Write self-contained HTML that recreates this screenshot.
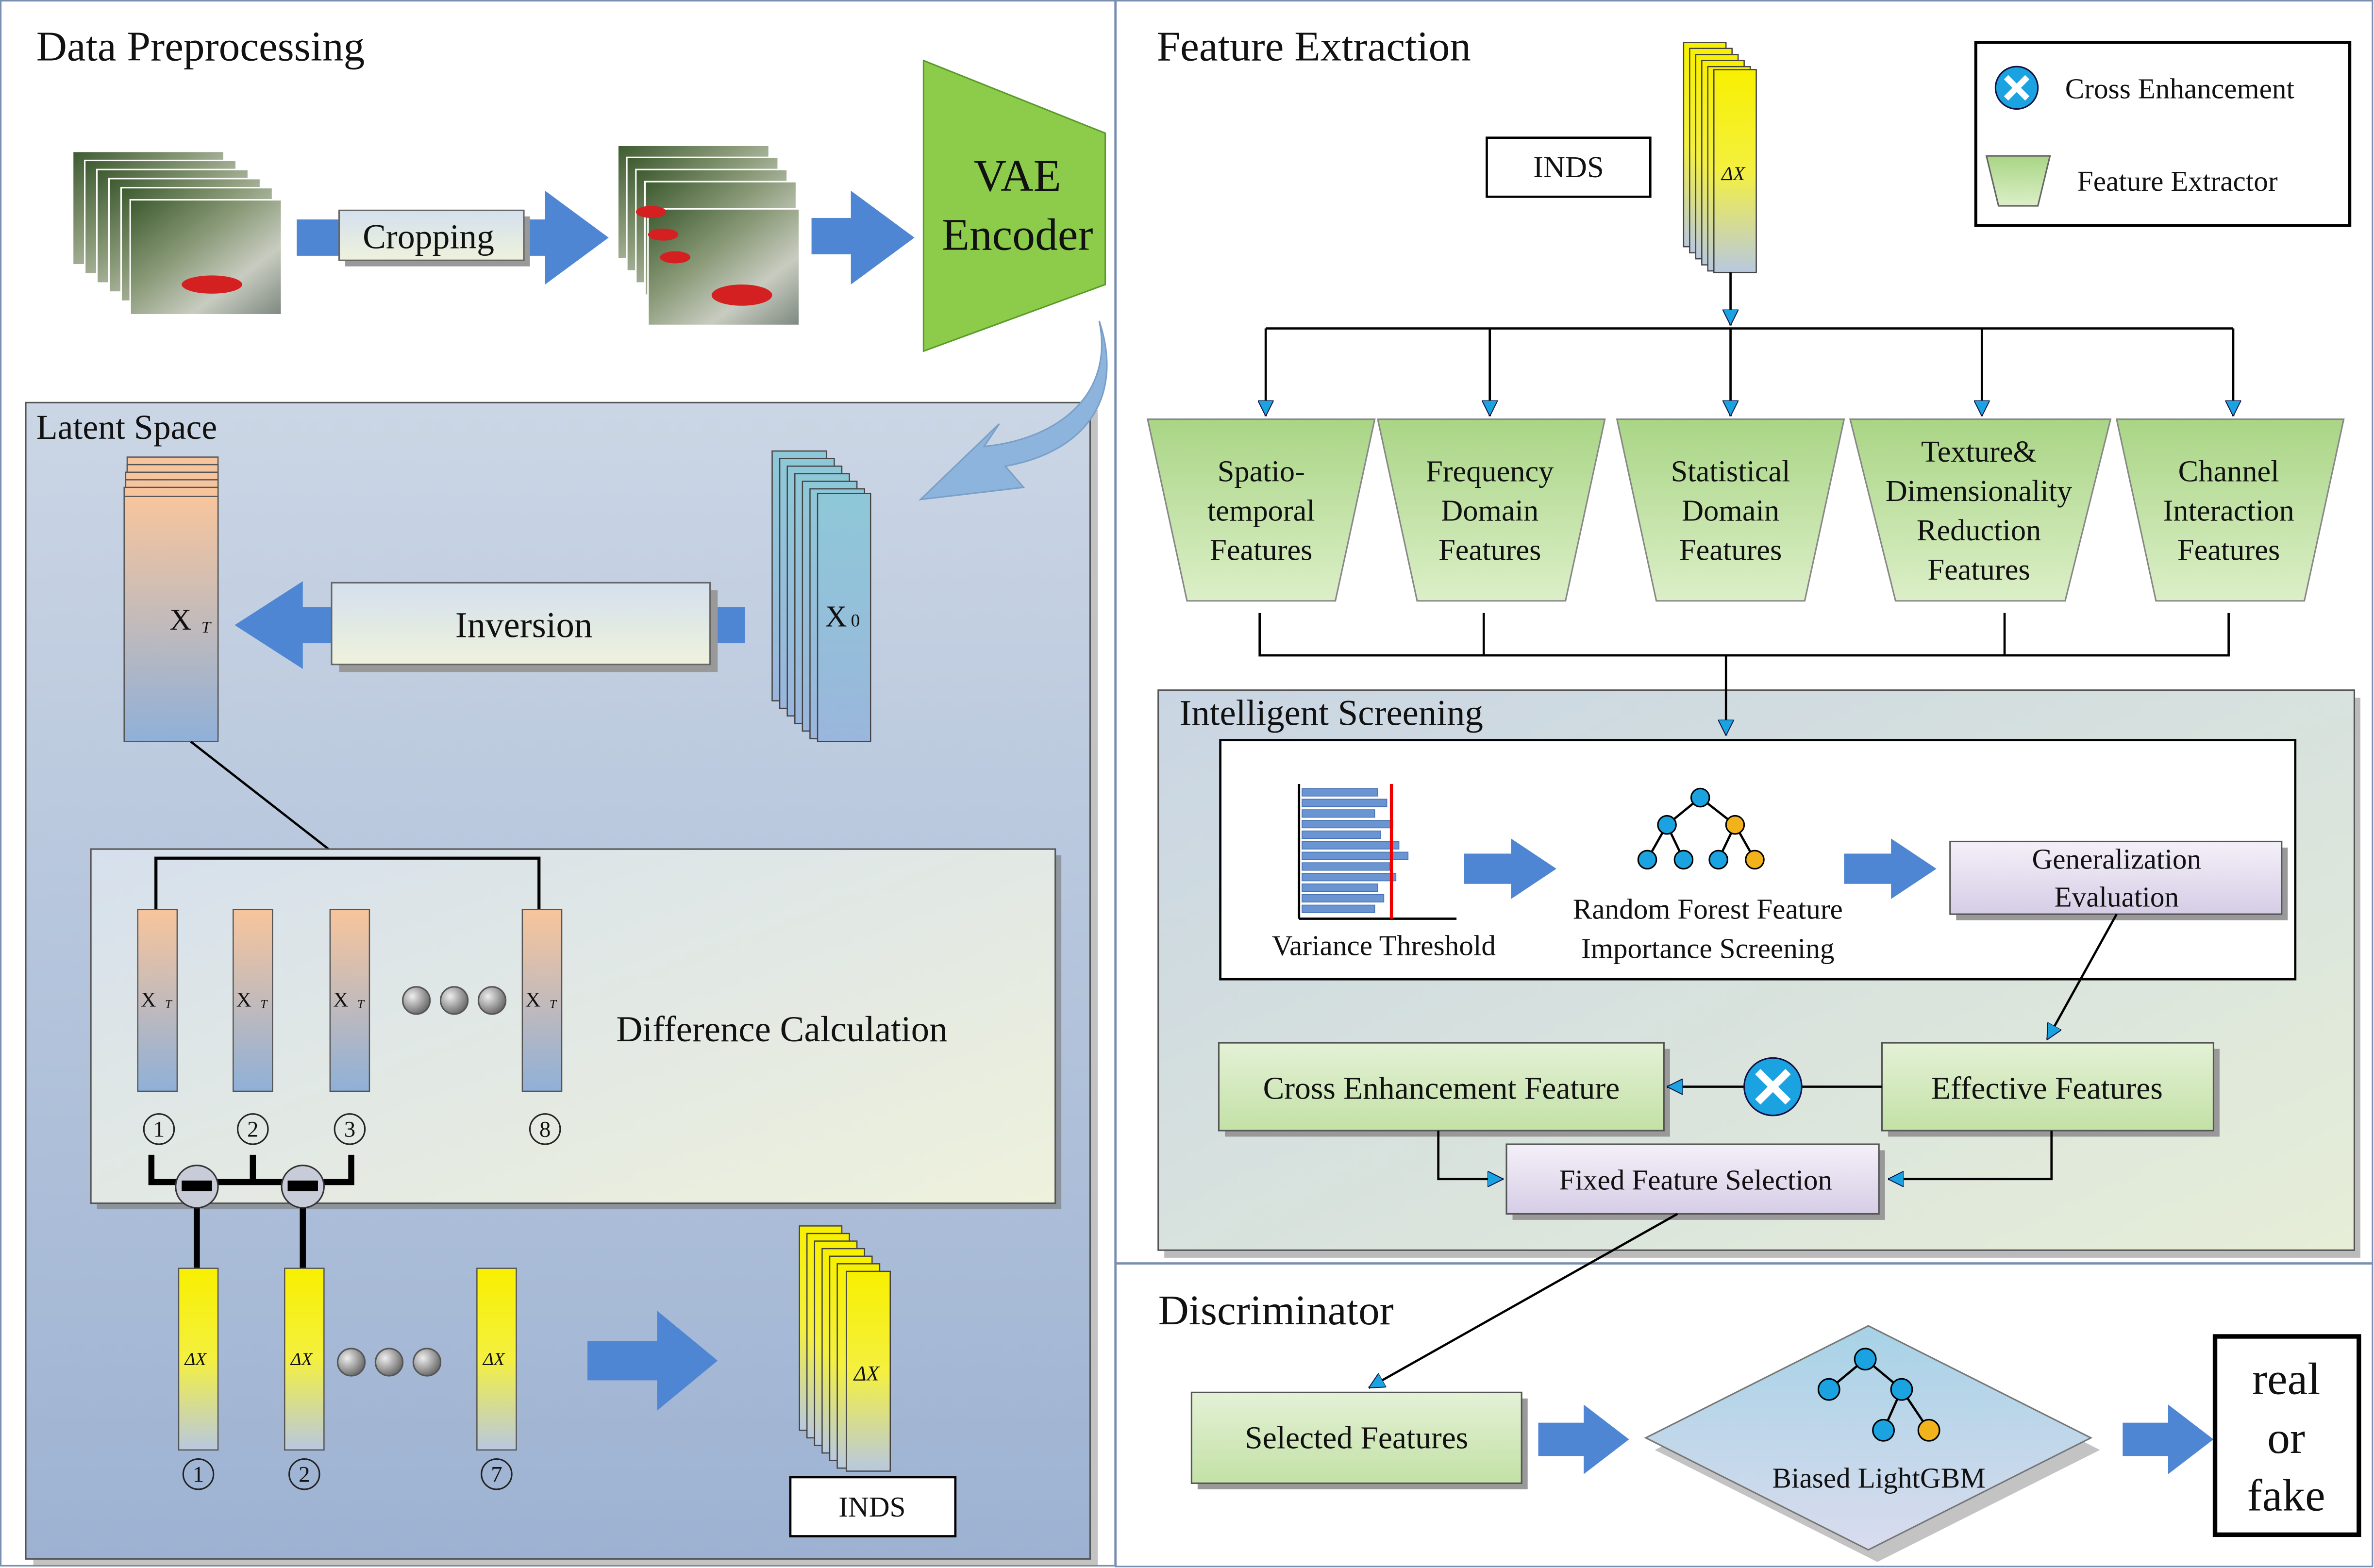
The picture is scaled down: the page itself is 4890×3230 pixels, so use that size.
<!DOCTYPE html>
<html><head><meta charset="utf-8"><style>
html,body{margin:0;padding:0;background:#fff;}
svg{display:block;}
text{font-family:"Liberation Serif",serif;fill:#111;}
</style></head><body>
<svg width="4890" height="3230" viewBox="0 0 1568 1036" preserveAspectRatio="none" xmlns="http://www.w3.org/2000/svg">
<defs>
<linearGradient id="latent" x1="0" y1="0" x2="0" y2="1"><stop offset="0" stop-color="#cbd6e5"/><stop offset="1" stop-color="#9db2d2"/></linearGradient>
<linearGradient id="diff" x1="0" y1="0" x2="1" y2="1"><stop offset="0" stop-color="#d6e0ec"/><stop offset="1" stop-color="#eef1dc"/></linearGradient>
<linearGradient id="screen" x1="0" y1="0" x2="1" y2="1"><stop offset="0" stop-color="#c9d5e3"/><stop offset="1" stop-color="#e6eed8"/></linearGradient>
<linearGradient id="trap" x1="0" y1="0" x2="0" y2="1"><stop offset="0" stop-color="#a9d585"/><stop offset="1" stop-color="#dcefc8"/></linearGradient>
<linearGradient id="gbox" x1="0" y1="0" x2="0" y2="1"><stop offset="0" stop-color="#e4f1d6"/><stop offset="1" stop-color="#c3e1a6"/></linearGradient>
<linearGradient id="pbox" x1="0" y1="0" x2="0" y2="1"><stop offset="0" stop-color="#f4f0f8"/><stop offset="1" stop-color="#d6cde6"/></linearGradient>
<linearGradient id="xt" x1="0" y1="0" x2="0" y2="1"><stop offset="0" stop-color="#f8c59c"/><stop offset="1" stop-color="#8fb0d8"/></linearGradient>
<linearGradient id="x0" x1="0" y1="0" x2="0" y2="1"><stop offset="0" stop-color="#8ec8d8"/><stop offset="1" stop-color="#9ab6dc"/></linearGradient>
<linearGradient id="dx" x1="0" y1="0" x2="0" y2="1"><stop offset="0" stop-color="#f8f000"/><stop offset="0.5" stop-color="#f4f040"/><stop offset="1" stop-color="#b8c8e0"/></linearGradient>
<linearGradient id="inv" x1="0" y1="0" x2="0" y2="1"><stop offset="0" stop-color="#d4e0ee"/><stop offset="1" stop-color="#eef2dc"/></linearGradient>
<linearGradient id="dia" x1="0" y1="0" x2="0" y2="1"><stop offset="0" stop-color="#a7d2e6"/><stop offset="1" stop-color="#d9dcee"/></linearGradient>
<linearGradient id="frame" x1="0" y1="0" x2="1" y2="1"><stop offset="0" stop-color="#3d5a30"/><stop offset="0.4" stop-color="#8a9a78"/><stop offset="0.7" stop-color="#c8ccc0"/><stop offset="1" stop-color="#7d8880"/></linearGradient>
<radialGradient id="ball" cx="0.35" cy="0.35" r="0.7"><stop offset="0" stop-color="#eee"/><stop offset="1" stop-color="#666"/></radialGradient>
<marker id="ah" viewBox="0 0 10 10" refX="10" refY="5" markerWidth="7" markerHeight="7" orient="auto-start-reverse"><path d="M0,0 L10,5 L0,10 z" fill="#1aa3e0" stroke="#114" stroke-width="0.6"/></marker>
</defs>

<rect x="0.5" y="0.5" width="736" height="1034" fill="none" stroke="#7a8fb0" stroke-width="1"/>
<rect x="737" y="0.5" width="830" height="834" fill="none" stroke="#7a8fb0" stroke-width="1"/>
<rect x="737" y="835" width="830" height="200" fill="none" stroke="#7a8fb0" stroke-width="1"/>

<text x="24" y="40" font-size="28">Data Preprocessing</text>
<text x="764" y="40" font-size="28">Feature Extraction</text>

<g>
<rect x="48" y="100" width="100" height="75" fill="url(#frame)" stroke="#fff"/>
<rect x="56" y="106" width="100" height="75" fill="url(#frame)" stroke="#fff"/>
<rect x="64" y="112" width="100" height="75" fill="url(#frame)" stroke="#fff"/>
<rect x="72" y="118" width="100" height="75" fill="url(#frame)" stroke="#fff"/>
<rect x="80" y="124" width="100" height="75" fill="url(#frame)" stroke="#fff"/>
<rect x="86" y="132" width="100" height="76" fill="url(#frame)" stroke="#fff"/>
<ellipse cx="140" cy="188" rx="20" ry="6" fill="#d42020"/>
</g>
<rect x="196" y="145" width="170" height="24" fill="#4f86d4"/>
<path d="M360,126 L402,157 L360,188 z" fill="#4f86d4"/>
<rect x="228" y="143" width="122" height="33" fill="#999"/>
<rect x="224" y="139" width="122" height="33" fill="url(#inv)" stroke="#666"/>
<text x="283" y="164" font-size="23" text-anchor="middle">Cropping</text>

<g>
<rect x="408" y="96" width="100" height="75" fill="url(#frame)" stroke="#fff"/>
<rect x="414" y="104" width="100" height="75" fill="url(#frame)" stroke="#fff"/>
<rect x="420" y="112" width="100" height="75" fill="url(#frame)" stroke="#fff"/>
<rect x="426" y="120" width="100" height="75" fill="url(#frame)" stroke="#fff"/>
<rect x="428" y="138" width="100" height="77" fill="url(#frame)" stroke="#fff"/>
<ellipse cx="490" cy="195" rx="20" ry="7" fill="#d42020"/>
<ellipse cx="430" cy="140" rx="10" ry="4" fill="#d42020"/>
<ellipse cx="438" cy="155" rx="10" ry="4" fill="#d42020"/>
<ellipse cx="446" cy="170" rx="10" ry="4" fill="#d42020"/>
</g>
<rect x="536" y="144" width="30" height="24" fill="#4f86d4"/>
<path d="M562,126 L604,157 L562,188 z" fill="#4f86d4"/>

<path d="M610,40 L730,88 L730,188 L610,232 z" fill="#8dcc4a" stroke="#5a9a2a"/>
<text x="672" y="126" font-size="30" text-anchor="middle">VAE</text>
<text x="672" y="165" font-size="30" text-anchor="middle">Encoder</text>

<rect x="22" y="271" width="703" height="764" fill="#888" opacity="0.5"/>
<rect x="17" y="266" width="703" height="764" fill="url(#latent)" stroke="#555"/>
<path d="M726,212 C736,260 700,290 650,295 L660,280 L608,330 L676,322 L664,308 C720,298 742,260 726,212 z" fill="#8cb4dc" stroke="#7aa0c8"/>
<text x="24" y="290" font-size="23">Latent Space</text>

<g stroke="#555" stroke-width="0.8">
<rect x="84" y="302" width="60" height="160" fill="url(#xt)"/>
<rect x="84" y="307" width="60" height="162" fill="url(#xt)"/>
<rect x="83" y="312" width="61" height="163" fill="url(#xt)"/>
<rect x="83" y="317" width="61" height="164" fill="url(#xt)"/>
<rect x="82" y="322" width="62" height="165" fill="url(#xt)"/>
<rect x="82" y="328" width="62" height="162" fill="url(#xt)"/>
</g>
<text x="112" y="416" font-size="20">X</text><text x="133" y="418" font-size="11" font-style="italic">T</text>

<g stroke="#444" stroke-width="0.8">
<rect x="510" y="298" width="36" height="165" fill="url(#x0)"/>
<rect x="515" y="303" width="36" height="165" fill="url(#x0)"/>
<rect x="520" y="308" width="36" height="165" fill="url(#x0)"/>
<rect x="525" y="313" width="36" height="165" fill="url(#x0)"/>
<rect x="530" y="318" width="36" height="165" fill="url(#x0)"/>
<rect x="535" y="323" width="36" height="165" fill="url(#x0)"/>
<rect x="540" y="326" width="35" height="164" fill="url(#x0)"/>
</g>
<text x="545" y="414" font-size="20">X</text><text x="562" y="414" font-size="12">0</text>

<rect x="470" y="401" width="22" height="24" fill="#4f86d4"/>
<rect x="195" y="401" width="30" height="24" fill="#4f86d4"/>
<path d="M200,384 L155,413 L200,442 z" fill="#4f86d4"/>
<rect x="224" y="390" width="250" height="54" fill="#999"/>
<rect x="219" y="385" width="250" height="54" fill="url(#inv)" stroke="#666"/>
<text x="346" y="421" font-size="24" text-anchor="middle">Inversion</text>

<line x1="126" y1="490" x2="217" y2="561" stroke="#000" stroke-width="1.5"/>

<rect x="64" y="565" width="637" height="234" fill="#777" opacity="0.6"/>
<rect x="60" y="561" width="637" height="234" fill="url(#diff)" stroke="#555"/>
<polyline points="103,601 103,567 356,567 356,601" fill="none" stroke="#000" stroke-width="2"/>
<g stroke="#555" stroke-width="0.8">
<rect x="91" y="601" width="26" height="120" fill="url(#xt)"/>
<rect x="154" y="601" width="26" height="120" fill="url(#xt)"/>
<rect x="218" y="601" width="26" height="120" fill="url(#xt)"/>
<rect x="345" y="601" width="26" height="120" fill="url(#xt)"/>
</g>
<g font-size="14"><text x="93" y="665">X</text><text x="156" y="665">X</text><text x="220" y="665">X</text><text x="347" y="665">X</text></g>
<g font-size="8" font-style="italic"><text x="109" y="666">T</text><text x="172" y="666">T</text><text x="236" y="666">T</text><text x="363" y="666">T</text></g>
<g fill="url(#ball)" stroke="#555"><circle cx="275" cy="661" r="9"/><circle cx="300" cy="661" r="9"/><circle cx="325" cy="661" r="9"/></g>
<text x="407" y="688" font-size="24" font-family="Liberation Sans">Difference Calculation</text>
<g fill="none" stroke="#222" stroke-width="1"><circle cx="105" cy="746" r="10"/><circle cx="167" cy="746" r="10"/><circle cx="231" cy="746" r="10"/><circle cx="360" cy="746" r="10"/>
<circle cx="131" cy="974" r="10"/><circle cx="201" cy="974" r="10"/><circle cx="328" cy="974" r="10"/></g>
<g font-size="15" text-anchor="middle"><text x="105" y="751">1</text><text x="167" y="751">2</text><text x="231" y="751">3</text><text x="360" y="751">8</text>
<text x="131" y="979">1</text><text x="201" y="979">2</text><text x="328" y="979">7</text></g>
<polyline points="100,763 100,781 232,781 232,763" fill="none" stroke="#000" stroke-width="4"/>
<line x1="167" y1="763" x2="167" y2="781" stroke="#000" stroke-width="4"/>
<line x1="130" y1="785" x2="130" y2="838" stroke="#000" stroke-width="4"/>
<line x1="200" y1="785" x2="200" y2="838" stroke="#000" stroke-width="4"/>
<circle cx="130" cy="784" r="14" fill="#c8ccd8" stroke="#333"/><rect x="120" y="780" width="20" height="7" fill="#000"/>
<circle cx="200" cy="784" r="14" fill="#c8ccd8" stroke="#333"/><rect x="190" y="780" width="20" height="7" fill="#000"/>

<g stroke="#555" stroke-width="0.8">
<rect x="118" y="838" width="26" height="120" fill="url(#dx)"/>
<rect x="188" y="838" width="26" height="120" fill="url(#dx)"/>
<rect x="315" y="838" width="26" height="120" fill="url(#dx)"/>
</g>
<g font-size="12" font-style="italic"><text x="122" y="902">ΔX</text><text x="192" y="902">ΔX</text><text x="319" y="902">ΔX</text></g>
<g fill="url(#ball)" stroke="#555"><circle cx="232" cy="900" r="9"/><circle cx="257" cy="900" r="9"/><circle cx="282" cy="900" r="9"/></g>
<rect x="388" y="886" width="50" height="26" fill="#4f86d4"/>
<path d="M434,866 L474,899 L434,932 z" fill="#4f86d4"/>
<g stroke="#444" stroke-width="0.8">
<rect x="528" y="810" width="28" height="135" fill="url(#dx)"/>
<rect x="533" y="815" width="28" height="135" fill="url(#dx)"/>
<rect x="538" y="820" width="28" height="135" fill="url(#dx)"/>
<rect x="543" y="825" width="28" height="135" fill="url(#dx)"/>
<rect x="548" y="830" width="28" height="135" fill="url(#dx)"/>
<rect x="553" y="835" width="28" height="135" fill="url(#dx)"/>
<rect x="559" y="840" width="29" height="132" fill="url(#dx)"/>
</g>
<text x="564" y="912" font-size="14" font-style="italic">ΔX</text>
<rect x="522" y="976" width="109" height="39" fill="#fff" stroke="#000" stroke-width="1.5"/>
<text x="576" y="1002" font-size="19" text-anchor="middle">INDS</text>

<rect x="982" y="91" width="108" height="39" fill="#fff" stroke="#000" stroke-width="1.5"/>
<text x="1036" y="117" font-size="20" text-anchor="middle">INDS</text>
<g stroke="#444" stroke-width="0.8">
<rect x="1112" y="28" width="28" height="135" fill="url(#dx)"/>
<rect x="1116" y="32" width="28" height="135" fill="url(#dx)"/>
<rect x="1120" y="36" width="28" height="135" fill="url(#dx)"/>
<rect x="1124" y="40" width="28" height="135" fill="url(#dx)"/>
<rect x="1128" y="44" width="28" height="135" fill="url(#dx)"/>
<rect x="1132" y="46" width="28" height="134" fill="url(#dx)"/>
</g>
<text x="1137" y="119" font-size="13" font-style="italic">ΔX</text>

<rect x="1305" y="28" width="247" height="121" fill="#fff" stroke="#000" stroke-width="2"/>
<circle cx="1332" cy="58" r="14" fill="#1aa3e0" stroke="#114"/>
<path d="M1325,51 L1339,65 M1339,51 L1325,65" stroke="#fff" stroke-width="4"/>
<text x="1364" y="65" font-size="19">Cross Enhancement</text>
<path d="M1312,103 L1354,103 L1346,136 L1320,136 z" fill="url(#trap)" stroke="#666"/>
<text x="1372" y="126" font-size="19">Feature Extractor</text>

<g stroke="#000" stroke-width="1.5" fill="none">
<line x1="1143" y1="180" x2="1143" y2="215" marker-end="url(#ah)"/>
<line x1="836" y1="217" x2="1475" y2="217"/>
<line x1="836" y1="217" x2="836" y2="275" marker-end="url(#ah)"/>
<line x1="984" y1="217" x2="984" y2="275" marker-end="url(#ah)"/>
<line x1="1143" y1="217" x2="1143" y2="275" marker-end="url(#ah)"/>
<line x1="1309" y1="217" x2="1309" y2="275" marker-end="url(#ah)"/>
<line x1="1475" y1="217" x2="1475" y2="275" marker-end="url(#ah)"/>
<polyline points="832,405 832,433 1472,433 1472,405"/>
<line x1="980" y1="405" x2="980" y2="433"/>
<line x1="1324" y1="405" x2="1324" y2="433"/>
</g>

<g stroke="#888" stroke-width="1">
<path d="M758,277 L908,277 L882,397 L784,397 z" fill="url(#trap)"/>
<path d="M910,277 L1060,277 L1034,397 L936,397 z" fill="url(#trap)"/>
<path d="M1068,277 L1218,277 L1192,397 L1094,397 z" fill="url(#trap)"/>
<path d="M1222,277 L1394,277 L1364,397 L1252,397 z" fill="url(#trap)"/>
<path d="M1398,277 L1548,277 L1522,397 L1424,397 z" fill="url(#trap)"/>
</g>
<g font-size="20" text-anchor="middle">
<text x="833" y="318">Spatio-</text><text x="833" y="344">temporal</text><text x="833" y="370">Features</text>
<text x="984" y="318">Frequency</text><text x="984" y="344">Domain</text><text x="984" y="370">Features</text>
<text x="1143" y="318">Statistical</text><text x="1143" y="344">Domain</text><text x="1143" y="370">Features</text>
<text x="1307" y="305">Texture&amp;</text><text x="1307" y="331">Dimensionality</text><text x="1307" y="357">Reduction</text><text x="1307" y="383">Features</text>
<text x="1472" y="318">Channel</text><text x="1472" y="344">Interaction</text><text x="1472" y="370">Features</text>
</g>

<rect x="769" y="461" width="790" height="370" fill="#777" opacity="0.5"/>
<rect x="765" y="456" width="790" height="370" fill="url(#screen)" stroke="#555"/>
<text x="779" y="479" font-size="24">Intelligent Screening</text>
<line x1="1140" y1="433" x2="1140" y2="486" stroke="#000" stroke-width="1.5" marker-end="url(#ah)"/>
<rect x="806" y="489" width="710" height="158" fill="#fff" stroke="#000" stroke-width="1.5"/>
<g fill="#6a95d2" stroke="#4570b0" stroke-width="0.5">
<rect x="860" y="521" width="50" height="5"/><rect x="860" y="528" width="56" height="5"/><rect x="860" y="535" width="48" height="5"/>
<rect x="860" y="542" width="60" height="5"/><rect x="860" y="549" width="52" height="5"/><rect x="860" y="556" width="64" height="5"/>
<rect x="860" y="563" width="70" height="5"/><rect x="860" y="570" width="58" height="5"/><rect x="860" y="577" width="62" height="5"/>
<rect x="860" y="584" width="50" height="5"/><rect x="860" y="591" width="54" height="5"/><rect x="860" y="598" width="48" height="5"/>
</g>
<line x1="858" y1="518" x2="858" y2="607" stroke="#000" stroke-width="1.5"/>
<line x1="858" y1="607" x2="962" y2="607" stroke="#000" stroke-width="1.5"/>
<line x1="919" y1="518" x2="919" y2="607" stroke="#e00" stroke-width="2"/>
<text x="914" y="631" font-size="19" text-anchor="middle">Variance Threshold</text>
<rect x="967" y="564" width="34" height="20" fill="#4f86d4"/><path d="M998,554 L1028,574 L998,594 z" fill="#4f86d4"/>
<g stroke="#000" stroke-width="1.5">
<line x1="1123" y1="527" x2="1101" y2="545"/><line x1="1123" y1="527" x2="1146" y2="545"/>
<line x1="1101" y1="545" x2="1088" y2="568"/><line x1="1101" y1="545" x2="1112" y2="568"/>
<line x1="1146" y1="545" x2="1135" y2="568"/><line x1="1146" y1="545" x2="1159" y2="568"/>
</g>
<g stroke="#000" fill="#1aa3e0"><circle cx="1123" cy="527" r="6"/><circle cx="1101" cy="545" r="6"/><circle cx="1146" cy="545" r="6" fill="#f2b21b"/><circle cx="1088" cy="568" r="6"/><circle cx="1112" cy="568" r="6"/><circle cx="1135" cy="568" r="6"/><circle cx="1159" cy="568" r="6" fill="#f2b21b"/></g>
<text x="1128" y="607" font-size="19" text-anchor="middle">Random Forest Feature</text>
<text x="1128" y="633" font-size="19" text-anchor="middle">Importance Screening</text>
<rect x="1218" y="564" width="34" height="20" fill="#4f86d4"/><path d="M1249,554 L1279,574 L1249,594 z" fill="#4f86d4"/>
<rect x="1292" y="560" width="219" height="48" fill="#999"/>
<rect x="1288" y="556" width="219" height="48" fill="url(#pbox)" stroke="#555"/>
<text x="1398" y="574" font-size="19" text-anchor="middle">Generalization</text>
<text x="1398" y="599" font-size="19" text-anchor="middle">Evaluation</text>
<line x1="1398" y1="604" x2="1352" y2="687" stroke="#000" stroke-width="1.5" marker-end="url(#ah)"/>

<rect x="809" y="693" width="294" height="58" fill="#999"/>
<rect x="805" y="689" width="294" height="58" fill="url(#gbox)" stroke="#555"/>
<text x="952" y="726" font-size="21" text-anchor="middle">Cross Enhancement Feature</text>
<rect x="1247" y="693" width="219" height="58" fill="#999"/>
<rect x="1243" y="689" width="219" height="58" fill="url(#gbox)" stroke="#555"/>
<text x="1352" y="726" font-size="21" text-anchor="middle">Effective Features</text>
<line x1="1243" y1="718" x2="1190" y2="718" stroke="#000" stroke-width="1.5"/>
<line x1="1152" y1="718" x2="1101" y2="718" stroke="#000" stroke-width="1.5" marker-end="url(#ah)"/>
<circle cx="1171" cy="718" r="19" fill="#1aa3e0" stroke="#114"/>
<path d="M1161,708 L1181,728 M1181,708 L1161,728" stroke="#fff" stroke-width="5"/>
<rect x="999" y="760" width="246" height="46" fill="#999"/>
<rect x="995" y="756" width="246" height="46" fill="url(#pbox)" stroke="#555"/>
<text x="1120" y="786" font-size="19" text-anchor="middle" font-family="Liberation Sans">Fixed Feature Selection</text>
<polyline points="950,747 950,779 993,779" fill="none" stroke="#000" stroke-width="1.5" marker-end="url(#ah)"/>
<polyline points="1355,747 1355,779 1247,779" fill="none" stroke="#000" stroke-width="1.5" marker-end="url(#ah)"/>
<line x1="1108" y1="802" x2="904" y2="917" stroke="#000" stroke-width="1.5" marker-end="url(#ah)"/>

<text x="765" y="875" font-size="28">Discriminator</text>
<rect x="791" y="924" width="218" height="60" fill="#999"/>
<rect x="787" y="920" width="218" height="60" fill="url(#gbox)" stroke="#555"/>
<text x="896" y="957" font-size="21" text-anchor="middle">Selected Features</text>
<rect x="1016" y="940" width="34" height="22" fill="#4f86d4"/><path d="M1046,928 L1076,951 L1046,974 z" fill="#4f86d4"/>
<path d="M1089,954 L1236,880 L1383,954 L1236,1028 z" fill="#888" opacity="0.5" transform="translate(4,4)"/>
<path d="M1087,950 L1234,876 L1381,950 L1234,1024 z" fill="url(#dia)" stroke="#777"/>
<g stroke="#000" stroke-width="1.5"><line x1="1232" y1="898" x2="1208" y2="918"/><line x1="1232" y1="898" x2="1256" y2="918"/><line x1="1256" y1="918" x2="1244" y2="945"/><line x1="1256" y1="918" x2="1274" y2="945"/></g>
<g stroke="#000" fill="#1aa3e0"><circle cx="1232" cy="898" r="7"/><circle cx="1208" cy="918" r="7"/><circle cx="1256" cy="918" r="7"/><circle cx="1244" cy="945" r="7"/><circle cx="1274" cy="945" r="7" fill="#f2b21b"/></g>
<text x="1241" y="983" font-size="19" text-anchor="middle">Biased LightGBM</text>
<rect x="1402" y="940" width="34" height="22" fill="#4f86d4"/><path d="M1432,928 L1462,951 L1432,974 z" fill="#4f86d4"/>
<rect x="1463" y="883" width="95" height="131" fill="#fff" stroke="#000" stroke-width="3"/>
<g font-size="30" text-anchor="middle"><text x="1510" y="921">real</text><text x="1510" y="960">or</text><text x="1510" y="998">fake</text></g>
</svg>
</body></html>
